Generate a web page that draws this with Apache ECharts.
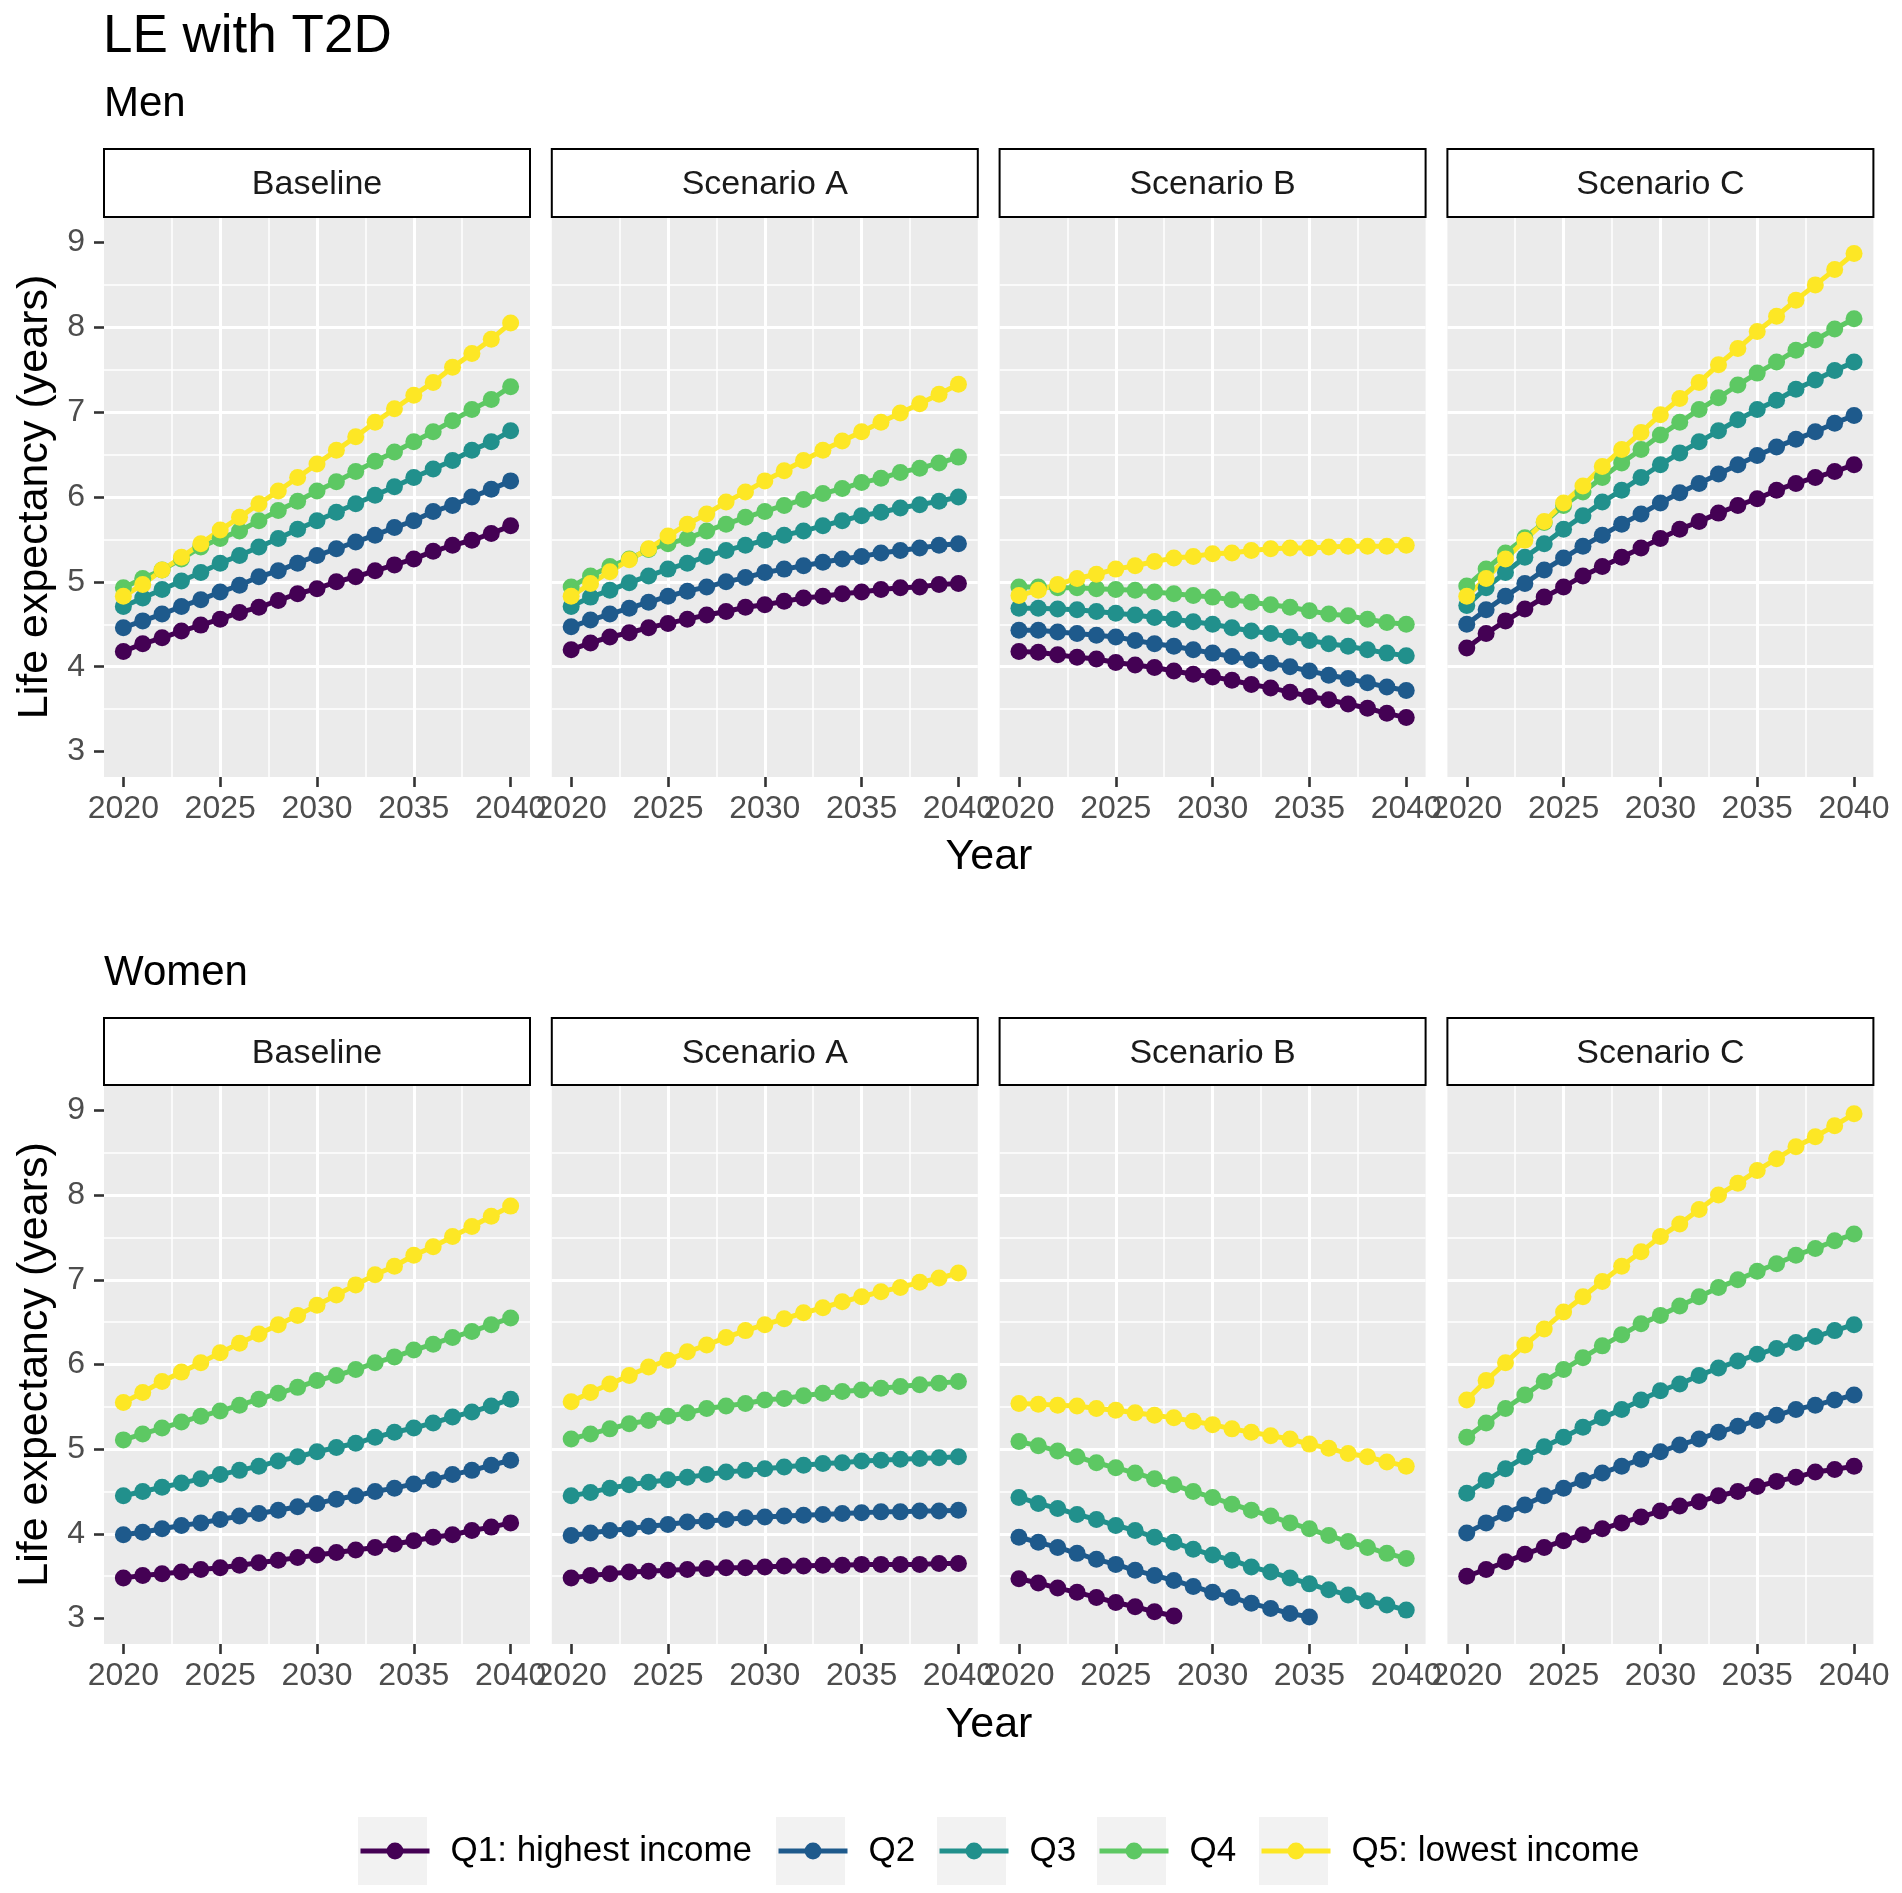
<!DOCTYPE html>
<html><head><meta charset="utf-8">
<script src="https://cdn.jsdelivr.net/npm/echarts@6/dist/echarts.min.js"></script>
<style>html,body{margin:0;padding:0;background:#fff}#c{width:1902px;height:1893px}</style>
</head><body><div id="c"></div>
<script>
// ---------------- data ----------------
const years = [2020,2021,2022,2023,2024,2025,2026,2027,2028,2029,2030,2031,2032,2033,2034,2035,2036,2037,2038,2039,2040];
const xTickValues = [2020,2025,2030,2035,2040];
const yTickValues = [3,4,5,6,7,8,9];
const quintiles = ['Q1: highest income','Q2','Q3','Q4','Q5: lowest income'];
const scenarios = ['Baseline','Scenario A','Scenario B','Scenario C'];
const sexes = ['Men','Women'];
const mainTitle = 'LE with T2D';
const xTitle = 'Year';
const yTitle = 'Life expectancy (years)';

// Men
const menBaseQ1 = [4.18,4.27,4.34,4.42,4.49,4.56,4.64,4.70,4.78,4.86,4.92,5.00,5.06,5.13,5.20,5.27,5.36,5.43,5.49,5.57,5.66];
const menBaseQ2 = [4.46,4.54,4.62,4.71,4.79,4.88,4.96,5.06,5.13,5.22,5.31,5.39,5.47,5.55,5.64,5.72,5.83,5.90,6.00,6.09,6.19];
const menBaseQ3 = [4.71,4.81,4.91,5.01,5.11,5.22,5.31,5.41,5.51,5.62,5.72,5.82,5.92,6.02,6.12,6.23,6.33,6.43,6.55,6.65,6.78];
const menBaseQ4 = [4.93,5.04,5.14,5.27,5.41,5.51,5.60,5.72,5.84,5.95,6.07,6.18,6.30,6.42,6.53,6.65,6.77,6.90,7.03,7.15,7.30];
const menBaseQ5 = [4.83,4.97,5.14,5.29,5.45,5.61,5.76,5.92,6.07,6.23,6.39,6.55,6.71,6.88,7.04,7.20,7.35,7.53,7.69,7.86,8.05];

const menAQ1 = [4.20,4.28,4.35,4.40,4.46,4.51,4.56,4.61,4.65,4.70,4.73,4.77,4.81,4.83,4.86,4.88,4.91,4.93,4.94,4.97,4.98];
const menAQ2 = [4.47,4.55,4.62,4.69,4.76,4.83,4.89,4.94,5.00,5.05,5.11,5.15,5.19,5.23,5.27,5.30,5.34,5.37,5.40,5.43,5.45];
const menAQ3 = [4.71,4.82,4.90,4.99,5.07,5.15,5.22,5.30,5.37,5.43,5.49,5.55,5.60,5.66,5.72,5.78,5.82,5.87,5.91,5.95,6.00];
const menAQ4 = [4.94,5.07,5.18,5.27,5.38,5.45,5.51,5.60,5.68,5.76,5.83,5.90,5.97,6.04,6.10,6.17,6.22,6.29,6.34,6.40,6.47];
const menAQ5 = [4.83,4.98,5.12,5.26,5.39,5.54,5.68,5.80,5.94,6.06,6.19,6.31,6.43,6.55,6.66,6.77,6.88,6.99,7.10,7.21,7.33];

const menBQ1 = [4.18,4.17,4.14,4.11,4.09,4.05,4.02,3.99,3.95,3.91,3.88,3.84,3.79,3.75,3.70,3.65,3.61,3.56,3.51,3.45,3.40];
const menBQ2 = [4.43,4.43,4.41,4.39,4.37,4.35,4.31,4.27,4.24,4.20,4.16,4.12,4.08,4.04,4.00,3.95,3.90,3.86,3.81,3.76,3.72];
const menBQ3 = [4.69,4.69,4.68,4.67,4.65,4.63,4.61,4.58,4.56,4.53,4.50,4.46,4.42,4.39,4.35,4.31,4.27,4.24,4.20,4.16,4.13];
const menBQ4 = [4.94,4.94,4.93,4.93,4.92,4.91,4.90,4.88,4.86,4.84,4.82,4.79,4.76,4.73,4.70,4.66,4.62,4.60,4.56,4.52,4.50];
const menBQ5 = [4.84,4.90,4.97,5.04,5.09,5.15,5.19,5.24,5.28,5.30,5.33,5.34,5.37,5.39,5.40,5.40,5.41,5.42,5.42,5.42,5.43];

const menCQ1 = [4.22,4.39,4.54,4.68,4.82,4.94,5.07,5.18,5.29,5.40,5.51,5.62,5.71,5.81,5.90,5.98,6.08,6.16,6.23,6.30,6.38];
const menCQ2 = [4.50,4.67,4.83,4.98,5.14,5.28,5.42,5.55,5.68,5.80,5.93,6.05,6.16,6.27,6.38,6.49,6.59,6.68,6.77,6.87,6.96];
const menCQ3 = [4.72,4.93,5.11,5.29,5.45,5.62,5.78,5.94,6.08,6.23,6.38,6.52,6.65,6.78,6.91,7.03,7.14,7.27,7.38,7.49,7.59];
const menCQ4 = [4.95,5.15,5.34,5.52,5.70,5.90,6.06,6.23,6.40,6.56,6.73,6.88,7.03,7.17,7.32,7.46,7.59,7.73,7.85,7.98,8.10];
const menCQ5 = [4.83,5.04,5.27,5.49,5.71,5.93,6.13,6.36,6.56,6.76,6.97,7.16,7.35,7.56,7.75,7.95,8.13,8.32,8.50,8.68,8.87];

// Women
const womBaseQ1 = [3.48,3.51,3.53,3.55,3.58,3.60,3.63,3.66,3.69,3.72,3.75,3.78,3.81,3.84,3.88,3.92,3.96,3.99,4.04,4.08,4.13];
const womBaseQ2 = [3.99,4.02,4.06,4.10,4.13,4.17,4.21,4.24,4.28,4.32,4.36,4.41,4.45,4.50,4.54,4.59,4.64,4.70,4.75,4.81,4.87];
const womBaseQ3 = [4.45,4.50,4.55,4.60,4.65,4.70,4.75,4.80,4.86,4.91,4.97,5.02,5.07,5.14,5.20,5.25,5.31,5.38,5.44,5.51,5.59];
const womBaseQ4 = [5.11,5.18,5.25,5.32,5.39,5.45,5.52,5.59,5.66,5.73,5.81,5.87,5.94,6.02,6.09,6.17,6.24,6.32,6.39,6.47,6.55];
const womBaseQ5 = [5.55,5.67,5.80,5.91,6.02,6.14,6.25,6.36,6.47,6.58,6.70,6.82,6.94,7.06,7.16,7.29,7.39,7.51,7.63,7.75,7.87];

const womAQ1 = [3.48,3.51,3.53,3.55,3.56,3.57,3.58,3.59,3.60,3.60,3.61,3.62,3.62,3.63,3.63,3.64,3.64,3.64,3.64,3.65,3.65];
const womAQ2 = [3.98,4.01,4.04,4.06,4.09,4.11,4.14,4.15,4.17,4.19,4.20,4.21,4.22,4.23,4.24,4.25,4.26,4.26,4.27,4.27,4.28];
const womAQ3 = [4.45,4.49,4.54,4.58,4.61,4.64,4.67,4.70,4.73,4.75,4.77,4.79,4.81,4.83,4.84,4.86,4.87,4.88,4.89,4.90,4.91];
const womAQ4 = [5.12,5.18,5.24,5.30,5.34,5.39,5.43,5.48,5.51,5.54,5.58,5.60,5.63,5.66,5.68,5.70,5.72,5.74,5.76,5.78,5.80];
const womAQ5 = [5.56,5.67,5.77,5.87,5.97,6.05,6.15,6.23,6.32,6.40,6.47,6.54,6.61,6.67,6.74,6.80,6.86,6.91,6.97,7.02,7.08];

const womBQ1 = [3.47,3.42,3.36,3.31,3.25,3.19,3.14,3.08,3.03];
const womBQ2 = [3.96,3.90,3.84,3.77,3.70,3.64,3.57,3.51,3.45,3.38,3.31,3.25,3.18,3.12,3.06,3.02];
const womBQ3 = [4.43,4.36,4.30,4.23,4.17,4.10,4.04,3.96,3.90,3.82,3.75,3.69,3.61,3.55,3.48,3.41,3.34,3.28,3.21,3.16,3.10];
const womBQ4 = [5.09,5.04,4.98,4.91,4.84,4.78,4.72,4.65,4.58,4.50,4.43,4.35,4.28,4.21,4.13,4.06,3.98,3.91,3.84,3.77,3.71];
const womBQ5 = [5.54,5.53,5.52,5.51,5.48,5.46,5.43,5.40,5.37,5.33,5.29,5.24,5.20,5.16,5.12,5.06,5.01,4.95,4.91,4.85,4.80];

const womCQ1 = [3.50,3.58,3.67,3.76,3.84,3.92,3.99,4.06,4.13,4.20,4.27,4.33,4.38,4.45,4.50,4.56,4.62,4.67,4.73,4.76,4.80];
const womCQ2 = [4.01,4.13,4.24,4.34,4.45,4.54,4.63,4.72,4.80,4.88,4.97,5.05,5.12,5.20,5.27,5.34,5.40,5.47,5.52,5.58,5.64];
const womCQ3 = [4.48,4.63,4.77,4.91,5.03,5.14,5.26,5.37,5.47,5.58,5.69,5.77,5.87,5.96,6.04,6.12,6.19,6.26,6.33,6.40,6.47];
const womCQ4 = [5.14,5.31,5.48,5.64,5.80,5.94,6.08,6.22,6.35,6.48,6.58,6.69,6.80,6.91,7.00,7.10,7.19,7.29,7.37,7.46,7.54];
const womCQ5 = [5.58,5.81,6.02,6.23,6.42,6.62,6.80,6.98,7.16,7.33,7.51,7.66,7.83,8.00,8.14,8.29,8.43,8.57,8.69,8.82,8.96];

// panel tables built from the arrays above (row = sex, column = scenario)
const panels = [
  [menBaseQ1,menBaseQ2,menBaseQ3,menBaseQ4,menBaseQ5],
  [menAQ1,menAQ2,menAQ3,menAQ4,menAQ5],
  [menBQ1,menBQ2,menBQ3,menBQ4,menBQ5],
  [menCQ1,menCQ2,menCQ3,menCQ4,menCQ5],
  [womBaseQ1,womBaseQ2,womBaseQ3,womBaseQ4,womBaseQ5],
  [womAQ1,womAQ2,womAQ3,womAQ4,womAQ5],
  [womBQ1,womBQ2,womBQ3,womBQ4,womBQ5],
  [womCQ1,womCQ2,womCQ3,womCQ4,womCQ5]
];

// ---------------- styling / layout ----------------
const colors = ['#440154','#1E5A8C','#21908C','#5DC863','#FDE725'];
const FONT = '"Liberation Sans", Arial, Helvetica, sans-serif';
const PANEL_LEFT0 = 104, PANEL_STEP = 447.8, PANEL_W = 426;
const ROW_TOP = [217, 1085], PANEL_H = [560, 559];
const STRIP_TOP = [149, 1018];
const SUB_Y = [104.5, 973.5];
const XTITLE_Y = [857, 1725];
const KEY_LEFT = [358, 776, 937, 1097, 1259];
const KEY_TOP = 1817, KEY_W = 69, KEY_H = 68;
const SYM = 17, LW = 5;

const grids = [], xAxes = [], yAxes = [], series = [], graphics = [];

for (let p = 0; p < 8; p++) {
  const r = Math.floor(p / 4), c = p % 4;
  const left = PANEL_LEFT0 + c * PANEL_STEP;
  grids.push({
    left: left, top: ROW_TOP[r], width: PANEL_W, height: PANEL_H[r],
    show: true, backgroundColor: '#EBEBEB', borderWidth: 0,
    containLabel: false, outerBoundsMode: 'none'
  });
  xAxes.push({
    type: 'value', gridIndex: p, min: 2019, max: 2041,
    axisLine: { show: false },
    axisTick: { show: true, length: 10, lineStyle: { color: '#333333', width: 2.6 }, customValues: xTickValues },
    axisLabel: { show: true, fontSize: 32, color: '#4D4D4D', fontFamily: FONT, margin: 16,
                 customValues: xTickValues, formatter: v => String(v) },
    splitLine: { show: true, lineStyle: { color: '#FFFFFF', width: 3 }, showMinLine: false, showMaxLine: false },
    minorTick: { show: false, splitNumber: 2 },
    minorSplitLine: { show: true, lineStyle: { color: '#FFFFFF', width: 1.5 } }
  });
  yAxes.push({
    type: 'value', gridIndex: p, min: 2.7, max: 9.3,
    axisLine: { show: false },
    axisTick: { show: c === 0, length: 10, lineStyle: { color: '#333333', width: 2.6 }, customValues: yTickValues },
    axisLabel: { show: c === 0, fontSize: 32, color: '#4D4D4D', fontFamily: FONT, margin: 19,
                 customValues: yTickValues, formatter: v => String(v) },
    splitLine: { show: true, lineStyle: { color: '#FFFFFF', width: 3 }, showMinLine: false, showMaxLine: false },
    minorTick: { show: false, splitNumber: 2 },
    minorSplitLine: { show: true, lineStyle: { color: '#FFFFFF', width: 1.5 } }
  });
  for (let q = 0; q < 5; q++) {
    const vals = panels[p][q];
    series.push({
      type: 'line', name: quintiles[q], xAxisIndex: p, yAxisIndex: p,
      data: vals.map((v, i) => [years[i], v]),
      symbol: 'circle', symbolSize: SYM, showSymbol: true,
      lineStyle: { width: LW, color: colors[q] },
      itemStyle: { color: colors[q] },
      emphasis: { disabled: true }, silent: true, animation: false, clip: false
    });
  }
  // strip
  graphics.push({
    type: 'rect', z: 10,
    shape: { x: left, y: STRIP_TOP[r], width: PANEL_W, height: ROW_TOP[r] - STRIP_TOP[r] },
    style: { fill: '#FFFFFF', stroke: '#000000', lineWidth: 2 }
  });
  graphics.push({
    type: 'text', z: 11, x: left + PANEL_W / 2, y: (STRIP_TOP[r] + ROW_TOP[r]) / 2 + 2,
    style: { text: scenarios[c], fontSize: 34, fontFamily: FONT, fill: '#1A1A1A', align: 'center', verticalAlign: 'middle' }
  });
}

// titles
graphics.push({ type: 'text', x: 103, y: 37, style: { text: mainTitle, fontSize: 53, fontFamily: FONT, fill: '#000', align: 'left', verticalAlign: 'middle' } });
for (let r = 0; r < 2; r++) {
  graphics.push({ type: 'text', x: 104, y: SUB_Y[r], style: { text: sexes[r], fontSize: 42, fontFamily: FONT, fill: '#000', align: 'left', verticalAlign: 'middle' } });
  graphics.push({ type: 'text', x: 989, y: XTITLE_Y[r], style: { text: xTitle, fontSize: 43, fontFamily: FONT, fill: '#000', align: 'center', verticalAlign: 'middle' } });
  graphics.push({ type: 'text', x: 35, y: ROW_TOP[r] + PANEL_H[r] / 2, rotation: Math.PI / 2,
    style: { text: yTitle, fontSize: 43, fontFamily: FONT, fill: '#000', align: 'center', verticalAlign: 'middle' } });
}
// legend key backgrounds
for (let q = 0; q < 5; q++) {
  graphics.push({ type: 'rect', z: 0, shape: { x: KEY_LEFT[q], y: KEY_TOP, width: KEY_W, height: KEY_H }, style: { fill: '#F2F2F2' } });
}

const legends = quintiles.map((name, q) => ({
  data: [name], left: KEY_LEFT[q], top: KEY_TOP + KEY_H / 2 - 17.5, padding: 0,
  itemWidth: KEY_W, itemHeight: 21, itemGap: 0, selectedMode: false,
  lineStyle: { width: LW },
  textStyle: { fontSize: 35, color: '#000', fontFamily: FONT, padding: [0, 0, 0, 16] }
}));

const chart = echarts.init(document.getElementById('c'), null, { renderer: 'canvas' });
chart.setOption({
  backgroundColor: '#FFFFFF',
  animation: false,
  textStyle: { fontFamily: FONT },
  grid: grids, xAxis: xAxes, yAxis: yAxes, series: series,
  legend: legends,
  graphic: { elements: graphics }
});
</script></body></html>
